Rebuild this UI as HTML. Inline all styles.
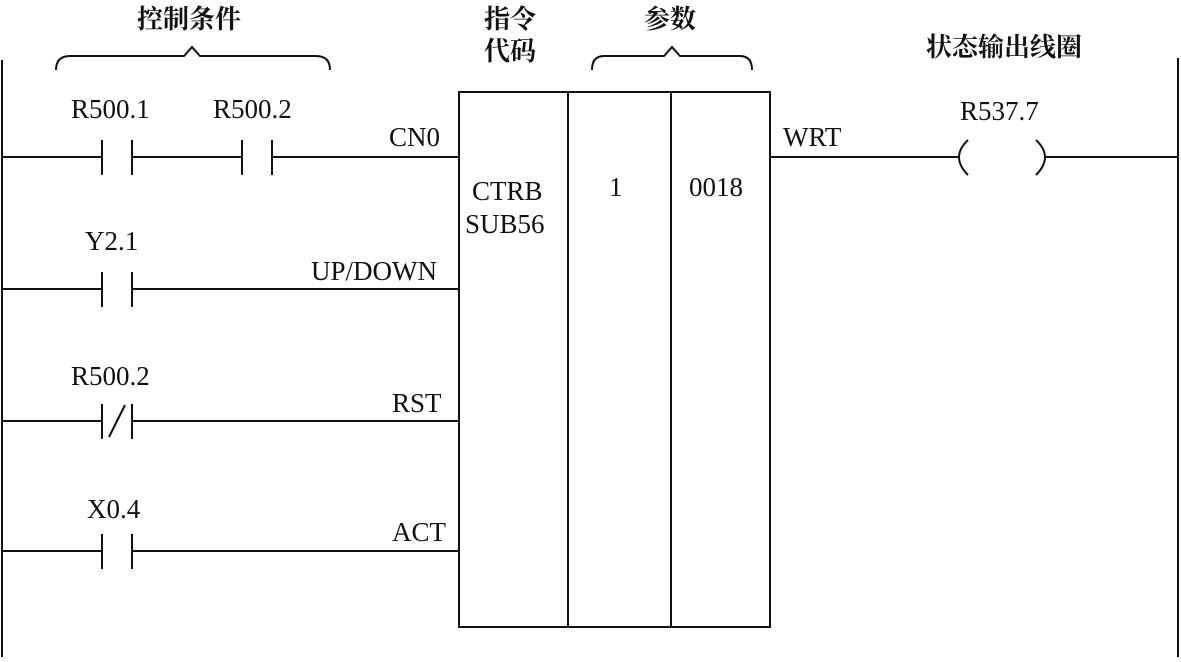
<!DOCTYPE html>
<html><head><meta charset="utf-8"><style>
body{margin:0;background:#fff}
svg text{font-family:"Liberation Serif","Noto Serif CJK SC",serif;font-size:27px;fill:#111}
svg .c{font-family:"Noto Serif CJK SC","Noto Sans CJK SC",serif;font-size:26px;font-weight:bold}
</style></head><body>
<svg width="1181" height="657" viewBox="0 0 1181 657" xmlns="http://www.w3.org/2000/svg">
<g stroke="#111" stroke-width="2" fill="none">
<line x1="2" y1="60" x2="2" y2="657"/>
<line x1="1178" y1="58" x2="1178" y2="657"/>
<rect x="459" y="92" width="311" height="535"/>
<line x1="568" y1="92" x2="568" y2="627"/>
<line x1="671" y1="92" x2="671" y2="627"/>
<line x1="2" y1="157" x2="102" y2="157"/>
<line x1="102" y1="140" x2="102" y2="175"/><line x1="132" y1="140" x2="132" y2="175"/>
<line x1="132" y1="157" x2="242" y2="157"/>
<line x1="242" y1="140" x2="242" y2="175"/><line x1="272" y1="140" x2="272" y2="175"/>
<line x1="272" y1="157" x2="459" y2="157"/>
<line x1="2" y1="289" x2="102" y2="289"/>
<line x1="102" y1="272" x2="102" y2="307"/><line x1="132" y1="272" x2="132" y2="307"/>
<line x1="132" y1="289" x2="459" y2="289"/>
<line x1="2" y1="421" x2="102" y2="421"/>
<line x1="102" y1="404" x2="102" y2="439"/><line x1="132" y1="404" x2="132" y2="439"/>
<line x1="109" y1="437" x2="125" y2="405"/>
<line x1="132" y1="421" x2="459" y2="421"/>
<line x1="2" y1="551" x2="102" y2="551"/>
<line x1="102" y1="534" x2="102" y2="569"/><line x1="132" y1="534" x2="132" y2="569"/>
<line x1="132" y1="551" x2="459" y2="551"/>
<line x1="770" y1="157" x2="958" y2="157"/>
<path d="M968 140 Q950 157 968 175"/>
<path d="M1036 140 Q1054 157 1036 175"/>
<line x1="1046" y1="157" x2="1178" y2="157"/>
<path d="M56 70 Q56 56 70 56 L184 56 L192 47 L200 56 L316 56 Q330 56 330 70"/>
<path d="M592 70 Q592 56 604 56 L664 56 L672 47 L680 56 L740 56 Q752 56 752 70"/>
</g>
<text class="c" x="137" y="28">控制条件</text>
<text class="c" x="484" y="28">指令</text>
<text class="c" x="484" y="60">代码</text>
<text class="c" x="644" y="28">参数</text>
<text class="c" x="926" y="56">状态输出线圈</text>
<text x="71" y="118">R500.1</text>
<text x="213" y="118">R500.2</text>
<text x="389" y="146">CN0</text>
<text x="85" y="250">Y2.1</text>
<text x="311" y="280">UP/DOWN</text>
<text x="71" y="385">R500.2</text>
<text x="392" y="412">RST</text>
<text x="87" y="518">X0.4</text>
<text x="392" y="541">ACT</text>
<text x="472" y="200">CTRB</text>
<text x="465" y="233">SUB56</text>
<text x="609" y="196">1</text>
<text x="689" y="196">0018</text>
<text x="783" y="146">WRT</text>
<text x="960" y="120">R537.7</text>
</svg>
</body></html>
